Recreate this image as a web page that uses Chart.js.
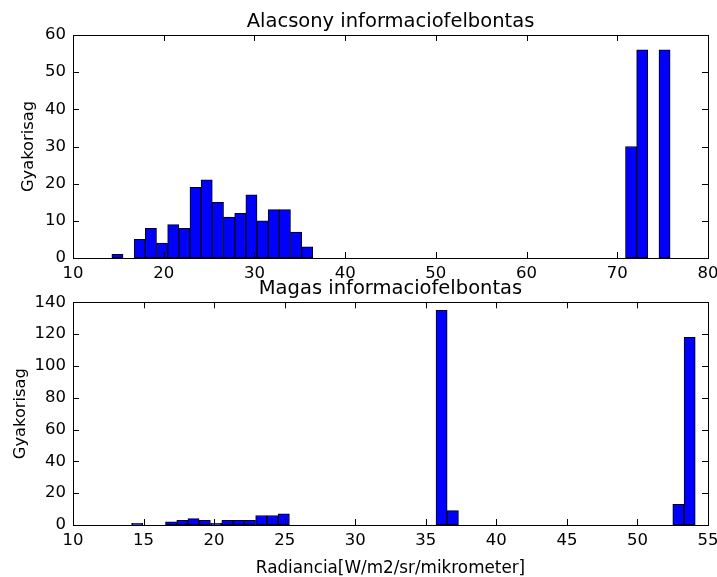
<!DOCTYPE html>
<html>
<head>
<meta charset="utf-8">
<script src="https://cdn.jsdelivr.net/npm/chart.js@4.4.0/dist/chart.umd.min.js"></script>
<style>
  body { margin: 0; background: #fff; overflow: hidden; }
  canvas { position: absolute; left: 0; }
  #low { top: 0; }
  #high { top: 276px; }
</style>
</head>
<body>
<canvas id="low" width="717" height="282"></canvas>
<canvas id="high" width="717" height="305"></canvas>
<script>
// low resolution histogram (only non-empty bins, bin centers)
const lowCenters = [14.90, 17.36, 18.59, 19.82, 21.05, 22.28, 23.51, 24.74, 25.98, 27.21,
                    28.44, 29.67, 30.90, 32.13, 33.36, 34.59, 35.82, 71.52, 72.75, 75.21];
const lowCounts = [1, 5, 8, 4, 9, 8, 19, 21, 15, 11, 12, 17, 10, 13, 13, 7, 3, 30, 56, 56];

// high resolution histogram
const highCenters = [14.55, 16.95, 17.75, 18.54, 19.34, 20.14, 20.94, 21.74, 22.54, 23.34,
                     24.14, 24.94, 36.12, 36.92, 52.90, 53.70];
const highCounts = [1, 2, 3, 4, 3, 1, 3, 3, 3, 6, 6, 7, 135, 9, 13, 118];

const lowXRange = [10, 80, 10];
const lowYRange = [0, 60, 10];
const highXRange = [10, 55, 5];
const highYRange = [0, 140, 20];

Chart.defaults.font.family = 'DejaVu Sans';
Chart.defaults.color = '#000';

// matplotlib style box with inward ticks on all sides
const frameTicks = {
    id: 'frameTicks',
    afterDatasetsDraw(chart) {
        const ctx = chart.ctx;
        const a = chart.chartArea;
        const sx = chart.scales.x, sy = chart.scales.y;
        ctx.save();
        ctx.strokeStyle = '#000';
        ctx.lineWidth = 1;
        ctx.beginPath();
        sx.ticks.forEach(t => {
            let px = Math.round(sx.getPixelForValue(t.value)) + 0.5;
            ctx.moveTo(px, a.bottom); ctx.lineTo(px, a.bottom - 6);
            ctx.moveTo(px, a.top); ctx.lineTo(px, a.top + 6);
        });
        sy.ticks.forEach(t => {
            let py = Math.round(sy.getPixelForValue(t.value)) + 0.5;
            ctx.moveTo(a.left, py); ctx.lineTo(a.left + 6, py);
            ctx.moveTo(a.right, py); ctx.lineTo(a.right - 6, py);
        });
        ctx.stroke();
        ctx.strokeRect(Math.round(a.left) + 0.5, Math.round(a.top) + 0.5,
            Math.round(a.right - a.left), Math.round(a.bottom - a.top));
        ctx.restore();
    }
};

function makeHist(id, centers, counts, xr, yr, title, ytitlePad, xtitle, titlePad, xHeight) {
    return new Chart(document.getElementById(id), {
        type: 'bar',
        data: {
            datasets: [{
                data: centers.map((c, i) => ({x: c, y: counts[i]})),
                backgroundColor: '#0000ff',
                borderColor: '#000',
                borderWidth: 1,
                borderSkipped: false,
                barPercentage: 1,
                categoryPercentage: 1
            }]
        },
        options: {
            responsive: false,
            animation: false,
            layout: { padding: { left: 0, right: 9, top: 0, bottom: 0 } },
            plugins: {
                legend: { display: false },
                tooltip: { enabled: false },
                title: {
                    display: true,
                    fullSize: false,
                    text: title,
                    font: { size: 19.5, weight: 'normal' },
                    color: '#000',
                    padding: titlePad
                }
            },
            scales: {
                x: {
                    type: 'linear',
                    offset: false,
                    min: xr[0], max: xr[1],
                    grid: { display: false, drawTicks: false },
                    border: { display: false },
                    ticks: { stepSize: xr[2], padding: 6, font: { size: 16.5 }, maxRotation: 0 },
                    title: { display: !!xtitle, text: xtitle, font: { size: 16.8 }, padding: { top: 0, bottom: 2.5 } },
                    afterFit(s) { s.height = xHeight; s.paddingLeft = 0; s.paddingRight = 0; }
                },
                y: {
                    min: yr[0], max: yr[1],
                    grid: { display: false, drawTicks: false },
                    border: { display: false },
                    ticks: { stepSize: yr[2], padding: 7, font: { size: 16.5 } },
                    title: { display: true, text: 'Gyakorisag', font: { size: 16.3 }, padding: { top: ytitlePad, bottom: 0 } },
                    afterFit(s) { s.width = 73; s.paddingTop = 0; s.paddingBottom = 0; }
                }
            }
        },
        plugins: [frameTicks]
    });
}

makeHist('low', lowCenters, lowCounts, lowXRange, lowYRange,
    'Alacsony informaciofelbontas', 19, '', { top: 10.35, bottom: 1.25 }, 24);
makeHist('high', highCenters, highCounts, highXRange, highYRange,
    'Magas informaciofelbontas', 10.7, 'Radiancia[W/m2/sr/mikrometer]', { top: 1.65, bottom: 1.25 }, 56);
</script>
</body>
</html>
